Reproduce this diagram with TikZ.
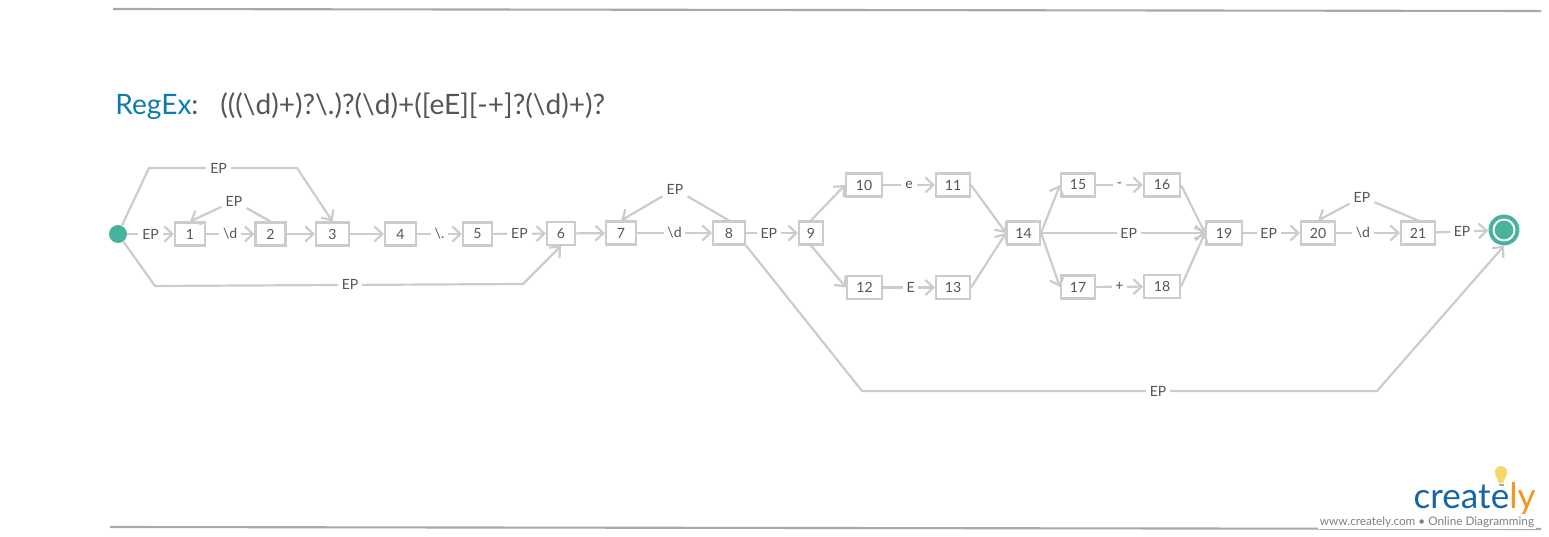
\documentclass[tikz,border=0pt]{standalone}
\usepackage{fontspec}
\setmainfont{Lato}
\usepackage{tikz}
\usetikzlibrary{arrows.meta}
\definecolor{wire}{HTML}{CCCCCC}
\definecolor{inkgray}{HTML}{555555}
\definecolor{rulegray}{HTML}{A8A8A8}
\definecolor{statecol}{HTML}{47B39D}
\definecolor{regexblue}{HTML}{0F7BA8}
\definecolor{logoblue}{HTML}{1565A8}
\definecolor{logoorange}{HTML}{F7941E}
\definecolor{bulbcol}{HTML}{F8D568}
\tikzset{
    box/.style={draw=wire, line width=1.25pt, fill=white, text=inkgray, font=\fontsize{8}{9}\selectfont,
        inner sep=0pt, minimum height=13pt},
    lbl/.style={fill=white, text=inkgray, font=\fontsize{8}{9}\selectfont, inner sep=2.2pt},
    flow/.style={draw=wire, line width=1.25pt, -{Straight Barb[length=4.5pt,width=8.5pt]}},
    frameline/.style={draw=rulegray, line width=1.2pt}
}

\begin{document}
\begin{tikzpicture}[x=0.02cm,y=-0.02cm]
    \useasboundingbox (0,0) rectangle (1549,537);

    \draw[frameline] (113,9) -- (1541,11);
    \draw[frameline] (110,527) -- (1541,529);

    \node[anchor=base west, font=\fontsize{16}{18}\selectfont, text=inkgray, inner sep=0pt] (title) at (115,114)
        {\textcolor{regexblue}{RegEx}:};
    \node[anchor=base west, font=\fontsize{16}{18}\selectfont, text=inkgray, inner sep=0pt] (regex) at (220,114)
        {(((\textbackslash d)+)?\textbackslash .)?(\textbackslash d)+([eE][-+]?(\textbackslash d)+)?};

    \foreach \n/\x/\y/\w in {1/190/234/30, 2/270.5/234/30, 3/332.5/234/33, 4/400.5/234/31, 5/477.5/234/29,
        6/561/233.5/28, 7/621/233/30, 8/729/233/32, 9/811/233/24, 10/864/185/36, 11/953/185/34,
        12/864.5/287.5/35, 13/953/287.5/34, 14/1023.5/233/33, 15/1078/185/34, 16/1162/185/36,
        17/1078/287/34, 18/1162/286.5/36, 19/1224/233/36, 20/1318/233/34, 21/1418/233/34}
        \node[box, minimum width=\w*0.567pt] (n\n) at (\x,\y) {\n};

    \node[circle, fill=statecol, inner sep=0pt, minimum size=10.2pt] (start) at (118,234) {};
    \node[circle, fill=statecol, inner sep=0pt, minimum size=17.6pt] (final) at (1504,230) {};
    \draw[white, line width=1.1pt] (final) circle[radius=10.5];

    % straight steps
    \draw[flow] (start) -- node[lbl] {EP} (n1);
    \foreach \a/\b/\t/\p in {1/2/\textbackslash d/0.5, 4/5/\textbackslash ./0.5, 5/6/EP/0.5, 7/8/\textbackslash d/0.5,
        8/9/EP/0.44, 10/11/e/0.5, 12/13/E/0.53, 15/16/-/0.5, 17/18/+/0.5, 19/20/EP/0.45, 20/21/\textbackslash d/0.42}
        \draw[flow] (n\a) -- node[lbl, pos=\p] {\t} (n\b);
    \draw[flow] (n21) -- node[lbl] {EP} (final);
    \foreach \a/\b in {2/3, 3/4, 6/7}
        \draw[flow] (n\a) -- (n\b);

    % fan out and in
    \draw[flow] (n9.north) -- (n10.west);
    \draw[flow] (n9.south) -- (n12.west);
    \draw[flow] (n11.east) -- (n14.west);
    \draw[flow] (n13.east) -- (n14.west);
    \draw[flow] (n14.east) -- (n15.west);
    \draw[flow] (n14.east) -- (n17.west);
    \draw[flow] (n14.east) -- node[lbl, pos=0.535] {EP} (n19.west);
    \draw[flow] (n16.east) -- (n19.west);
    \draw[flow] (n18.east) -- (n19.west);

    % loops back
    \node[lbl] (back1) at (234,201) {EP};
    \node[lbl] (back2) at (675,189) {EP};
    \node[lbl] (back3) at (1362,197) {EP};
    \draw[flow] (n2.north) -- (back1) -- (n1.north);
    \draw[flow] (n8.north) -- (back2) -- (n7.north);
    \draw[flow] (n21.north) -- (back3) -- (n20.north);

    % skips
    \coordinate (topa) at (149,168);
    \coordinate (topb) at (297,168);
    \coordinate (lowa) at (155,286);
    \coordinate (lowb) at (523,284);
    \coordinate (longa) at (862,391);
    \coordinate (longb) at (1377,391);
    \draw[flow] (start) -- (topa) -- node[lbl, pos=0.47] {EP} (topb) -- (n3.north);
    \draw[flow] (start) -- (lowa) -- node[lbl, pos=0.53] {EP} (lowb) -- (n6.south);
    \draw[flow] (n8.south east) -- (longa) -- node[lbl, pos=0.575] {EP} (longb) -- (final.south);

    % logo
    \node[anchor=base, fill=white, inner sep=1pt, text=gray, font=\fontsize{6.7}{8}\selectfont] (site) at (1427,525)
        {www.creately.com • Online Diagramming};
    \node[anchor=base east, inner sep=0pt, font=\fontsize{20}{24}\selectfont, text=logoblue] (logo) at (1536,508)
        {create\textcolor{logoorange}{ly}};
    \fill[bulbcol] (1501,472) circle[radius=6];
    \fill[bulbcol] (1495.5,475) -- (1506.5,475) -- (1503,483) -- (1499,483) -- cycle;
    \fill[gray!70] (1498.5,483.5) rectangle (1503.5,486);
\end{tikzpicture}
\end{document}
